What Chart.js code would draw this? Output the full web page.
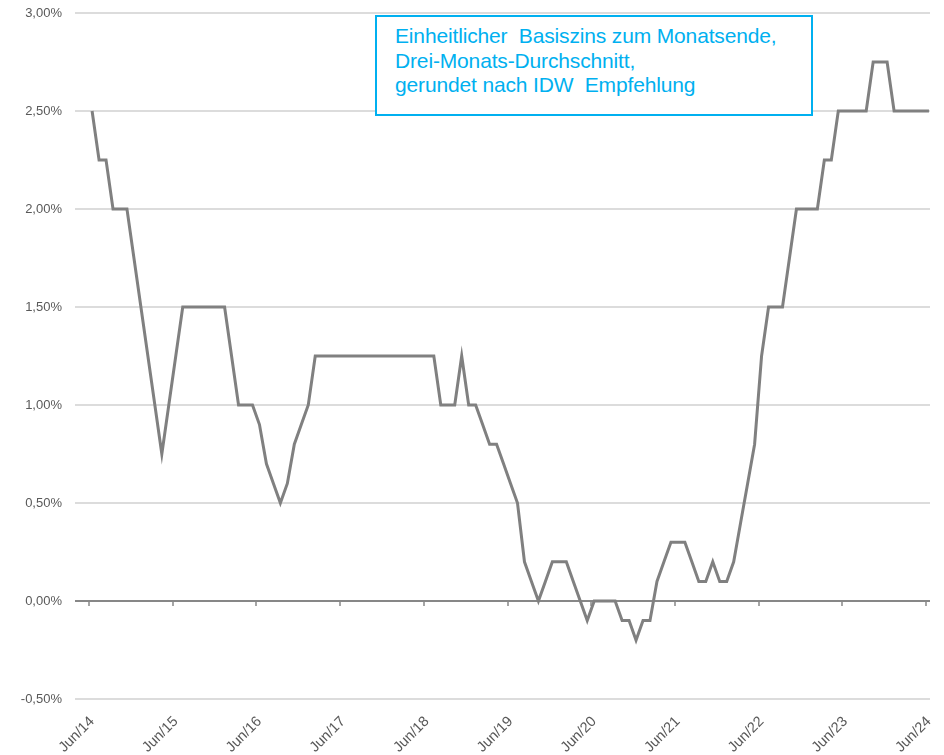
<!DOCTYPE html>
<html>
<head>
<meta charset="utf-8">
<script src="https://cdn.jsdelivr.net/npm/chart.js@4.4.1/dist/chart.umd.min.js"></script>
<style>
  body { margin: 0; background: #fff; }
  #wrap { position: relative; width: 944px; height: 755px; }
  #note {
    position: absolute; left: 375px; top: 15px; width: 438px; height: 101px;
    border: 2px solid #00b0f0; box-sizing: border-box; background: #fff;
    color: #00b0f0; font-family: "Liberation Sans", Arial, sans-serif;
    font-size: 21px; line-height: 24.5px; padding: 7px 0 0 18px;
    letter-spacing: -0.15px; white-space: nowrap;
  }
</style>
</head>
<body>
<div id="wrap">
  <canvas id="myChart"></canvas>
  <div id="note">Einheitlicher&nbsp; Basiszins zum Monatsende,<br>Drei-Monats-Durchschnitt,<br>gerundet nach IDW&nbsp; Empfehlung</div>
</div>
<script>
// Monatsenden Jun/14 .. Jun/24
const monthNames = ['Jun', 'Jul', 'Aug', 'Sep', 'Okt', 'Nov', 'Dez', 'Jan', 'Feb', 'Mrz', 'Apr', 'Mai'];
const startYear = 14;
const endYear = 24;

// Basiszins in %, gerundet
const basiszins = [
  2.50, 2.25, 2.25, 2.00, 2.00, 2.00, 1.75, 1.50, 1.25, 1.00, 0.75, 1.00,
  1.25, 1.50, 1.50, 1.50, 1.50, 1.50, 1.50, 1.50, 1.25, 1.00, 1.00, 1.00,
  0.90, 0.70, 0.60, 0.50, 0.60, 0.80, 0.90, 1.00, 1.25, 1.25, 1.25, 1.25,
  1.25, 1.25, 1.25, 1.25, 1.25, 1.25, 1.25, 1.25, 1.25, 1.25, 1.25, 1.25,
  1.25, 1.25, 1.00, 1.00, 1.00, 1.25, 1.00, 1.00, 0.90, 0.80, 0.80, 0.70,
  0.60, 0.50, 0.20, 0.10, 0.00, 0.10, 0.20, 0.20, 0.20, 0.10, 0.00, -0.10,
  0.00, 0.00, 0.00, 0.00, -0.10, -0.10, -0.20, -0.10, -0.10, 0.10, 0.20, 0.30,
  0.30, 0.30, 0.20, 0.10, 0.10, 0.20, 0.10, 0.10, 0.20, 0.40, 0.60, 0.80,
  1.25, 1.50, 1.50, 1.50, 1.75, 2.00, 2.00, 2.00, 2.00, 2.25, 2.25, 2.50,
  2.50, 2.50, 2.50, 2.50, 2.75, 2.75, 2.75, 2.50, 2.50, 2.50, 2.50, 2.50,
  2.50
];

const yTicks = [-0.5, 0, 0.5, 1.0, 1.5, 2.0, 2.5, 3.0];

const monthLabels = [];
for (let y = startYear; y <= endYear; y++) {
  for (let m = 0; m < 12; m++) {
    const yy = m < 7 ? y : y + 1;
    monthLabels.push(monthNames[m] + '/' + yy);
  }
}
// nur die Juni-Werte werden beschriftet
const xTickIdx = [];
for (let i = 0; i < basiszins.length; i += 12) xTickIdx.push(i);

const fmtPct = v => v.toFixed(2).replace('.', ',') + '%';

// Nulllinie mit kleinen Strichen an den Juni-Positionen
const zeroTicks = {
  id: 'zeroTicks',
  beforeDatasetsDraw(chart) {
    const { ctx, scales: { x, y } } = chart;
    const y0 = y.getPixelForValue(0);
    ctx.save();
    ctx.strokeStyle = '#878787';
    ctx.lineWidth = 1.5;
    xTickIdx.forEach(i => {
      const px = Math.round(x.getPixelForValue(i)) - 3;
      ctx.beginPath();
      ctx.moveTo(px, y0);
      ctx.lineTo(px, y0 + 5);
      ctx.stroke();
    });
    ctx.restore();
  }
};

const ctx = document.getElementById('myChart');
new Chart(ctx, {
  type: 'line',
  data: {
    datasets: [{
      label: 'Basiszins',
      data: basiszins.map((v, i) => ({ x: i, y: v })),
      borderColor: '#808080',
      borderWidth: 3,
      pointRadius: 0,
      tension: 0,
      fill: false
    }]
  },
  options: {
    responsive: true,
    maintainAspectRatio: false,
    animation: false,
    layout: { padding: { top: 13, right: 14, left: 0, bottom: 0 } },
    plugins: { legend: { display: false }, tooltip: { enabled: false } },
    scales: {
      x: {
        type: 'linear',
        min: -2.45,
        max: 120.15,
        grid: { display: false, drawTicks: false },
        border: { display: false },
        afterBuildTicks: s => { s.ticks = xTickIdx.map(v => ({ value: v })); },
        afterFit: s => {
          s.height = 56;
          s.paddingLeft = 0;
          s.paddingRight = 0;
        },
        ticks: {
          autoSkip: false,
          maxRotation: 45,
          minRotation: 45,
          padding: 14,
          color: '#595959',
          font: { family: '"Liberation Sans", Arial, sans-serif', size: 14.5 },
          callback: v => monthLabels[v]
        }
      },
      y: {
        min: -0.5,
        max: 3.0,
        afterBuildTicks: s => { s.ticks = yTicks.map(v => ({ value: v })); },
        afterFit: s => {
          s.width = 75;
          s.paddingTop = 0;
          s.paddingBottom = 0;
        },
        grid: {
          drawTicks: false,
          color: c => c.tick && c.tick.value === 0 ? '#878787' : '#dcdcdc',
          lineWidth: 2
        },
        border: { display: false },
        ticks: {
          padding: 13,
          color: '#595959',
          font: { family: '"Liberation Sans", Arial, sans-serif', size: 13 },
          callback: v => fmtPct(v)
        }
      }
    }
  },
  plugins: [zeroTicks]
});
</script>
</body>
</html>
